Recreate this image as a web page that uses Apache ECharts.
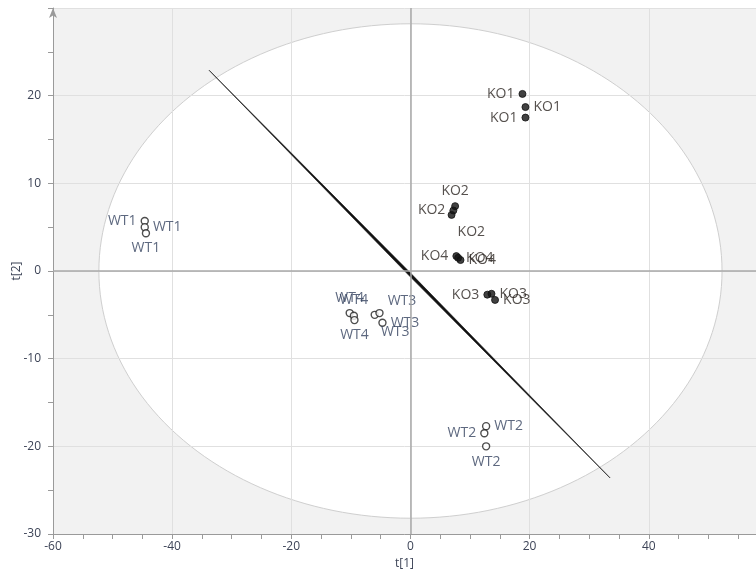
<!DOCTYPE html>
<html>
<head>
<meta charset="utf-8">
<script src="https://cdn.jsdelivr.net/npm/echarts@6/dist/echarts.min.js"></script>
<style>
html, body { margin: 0; padding: 0; background: #fff; }
#chart { width: 756px; height: 576px; }
</style>
</head>
<body>
<div id="chart"></div>
<script>
// scores plot, t[1] vs t[2]
var sampleNames = ['KO1','KO1','KO1', 'KO2','KO2','KO2', 'KO4','KO4','KO4', 'KO3','KO3','KO3',
                   'WT1','WT1','WT1', 'WT4','WT4','WT4', 'WT3','WT3','WT3', 'WT2','WT2','WT2'];
var t1 = [18.8, 19.3, 19.3,  7.5, 7.2, 6.9,  7.7, 8.0, 8.4,  12.9, 13.6, 14.2,
          -44.6, -44.6, -44.4,  -10.2, -9.5, -9.4,  -6.0, -5.2, -4.7,  12.7, 12.4, 12.7];
var t2 = [20.2, 18.7, 17.5,  7.4, 6.9, 6.4,  1.7, 1.5, 1.25,  -2.7, -2.6, -3.3,
          5.7, 5.0, 4.3,  -4.8, -5.1, -5.6,  -5.0, -4.8, -5.9,  -17.7, -18.5, -20.0];
// label placement per point
var labelSide = ['left','right','left', 'top','left','belowRight', 'left','right','right', 'left','right','right',
                 'left','right','bottom', 'top','top','bottom', 'belowRight','aboveRight','right', 'right','left','bottom'];

// Hotelling T2 ellipse radii
var ellipseRadii = [52.3, 28.2];
// straight line drawn across the plot
var lineStart = [-33.8, 22.9];
var lineEnd = [33.5, -23.6];

var xTicks = [-60, -40, -20, 0, 20, 40];
var yTicks = [-30, -20, -10, 0, 10, 20];

function labelFor(side, isKO) {
  var lab = {
    show: true,
    formatter: '{b}',
    fontFamily: 'Open Sans',
    fontSize: 14,
    color: isKO ? '#2b2420' : '#34425f',
    distance: 4
  };
  if (side === 'belowRight') { lab.position = 'right'; lab.offset = [-2, 17]; }
  else if (side === 'aboveRight') { lab.position = 'right'; lab.offset = [0, -12]; }
  else lab.position = side;
  return lab;
}

var points = sampleNames.map(function (n, i) {
  var isKO = n.indexOf('KO') === 0;
  return {
    name: n,
    value: [t1[i], t2[i]],
    itemStyle: isKO
      ? { color: '#111', borderColor: '#111', borderWidth: 1 }
      : { color: '#fff', borderColor: '#222', borderWidth: 1.4 },
    label: labelFor(labelSide[i], isKO)
  };
});

var axisGray = '#9a9a9a';
var tickText = '#3d4457';
var chart = echarts.init(document.getElementById('chart'));
chart.setOption({
  animation: false,
  grid: { left: 53, right: 0, top: 8, bottom: 42, outerBoundsMode: 'none', containLabel: false },
  xAxis: {
    type: 'value',
    min: -60, max: 58, interval: 20,
    name: 't[1]', nameLocation: 'middle', nameGap: 24, nameMoveOverlap: false,
    nameTextStyle: { color: tickText, fontSize: 12, fontFamily: 'Open Sans' },
    axisLine: { show: true, onZero: false, lineStyle: { color: axisGray } },
    axisTick: { show: true, length: 5, lineStyle: { color: axisGray } },
    minorTick: { show: true, splitNumber: 4, length: 5, lineStyle: { color: axisGray } },
    axisLabel: {
      color: tickText, fontSize: 12, fontFamily: 'Open Sans', margin: 7,
      formatter: function (v) { return xTicks.indexOf(v) >= 0 ? String(v) : ''; }
    },
    splitLine: { show: true, lineStyle: { color: '#e0e0e0' } }
  },
  yAxis: {
    type: 'value',
    min: -30, max: 30, interval: 10,
    name: 't[2]', nameLocation: 'middle', nameGap: 30, nameRotate: 90, nameMoveOverlap: false,
    nameTextStyle: { color: tickText, fontSize: 12, fontFamily: 'Open Sans' },
    axisLine: { show: true, onZero: false, symbol: ['none', 'arrow'], symbolSize: [6, 10],
      lineStyle: { color: axisGray } },
    axisTick: { show: true, length: 5, lineStyle: { color: axisGray } },
    minorTick: { show: true, splitNumber: 2, length: 5, lineStyle: { color: axisGray } },
    axisLabel: {
      color: tickText, fontSize: 12, fontFamily: 'Open Sans', margin: 12,
      formatter: function (v) { return yTicks.indexOf(v) >= 0 ? String(v) : ''; }
    },
    splitLine: { show: true, lineStyle: { color: '#e0e0e0' } }
  },
  series: [
    {
      // plot background and the confidence ellipse
      type: 'custom',
      z: -1,
      silent: true,
      data: [[0, 0]],
      renderItem: function (params, api) {
        var cs = params.coordSys;
        var pts = [];
        for (var k = 0; k <= 200; k++) {
          var a = k / 200 * Math.PI * 2;
          pts.push(api.coord([ellipseRadii[0] * Math.cos(a), ellipseRadii[1] * Math.sin(a)]));
        }
        return {
          type: 'group',
          children: [
            { type: 'rect', shape: { x: cs.x, y: cs.y, width: cs.width, height: cs.height },
              style: { fill: '#f2f2f2' } },
            { type: 'polygon', shape: { points: pts },
              style: { fill: '#ffffff', stroke: '#cfcfcf', lineWidth: 1 } }
          ]
        };
      }
    },
    {
      // tapered straight line
      type: 'custom',
      silent: true,
      z: 3,
      encode: { x: [0, 2], y: [1, 3] },
      data: [[lineStart[0], lineStart[1], lineEnd[0], lineEnd[1]]],
      renderItem: function (params, api) {
        var p1 = api.coord([api.value(0), api.value(1)]);
        var p2 = api.coord([api.value(2), api.value(3)]);
        var dx = p2[0] - p1[0], dy = p2[1] - p1[1];
        var len = Math.sqrt(dx * dx + dy * dy);
        var nx = -dy / len, ny = dx / len, w = 1.4;
        var mid = [(p1[0] + p2[0]) / 2, (p1[1] + p2[1]) / 2];
        return {
          type: 'polygon',
          shape: { points: [p1, [mid[0] + nx * w, mid[1] + ny * w], p2, [mid[0] - nx * w, mid[1] - ny * w]] },
          style: { fill: '#111', stroke: '#111', lineWidth: 0.6 }
        };
      }
    },
    {
      type: 'scatter',
      symbol: 'circle',
      symbolSize: 7,
      z: 4,
      data: points,
      markLine: {
        silent: true,
        symbol: 'none',
        label: { show: false },
        lineStyle: { color: '#a8a8a8', width: 1.5, type: 'solid' },
        data: [{ xAxis: 0 }, { yAxis: 0 }]
      }
    }
  ]
});
</script>
</body>
</html>
